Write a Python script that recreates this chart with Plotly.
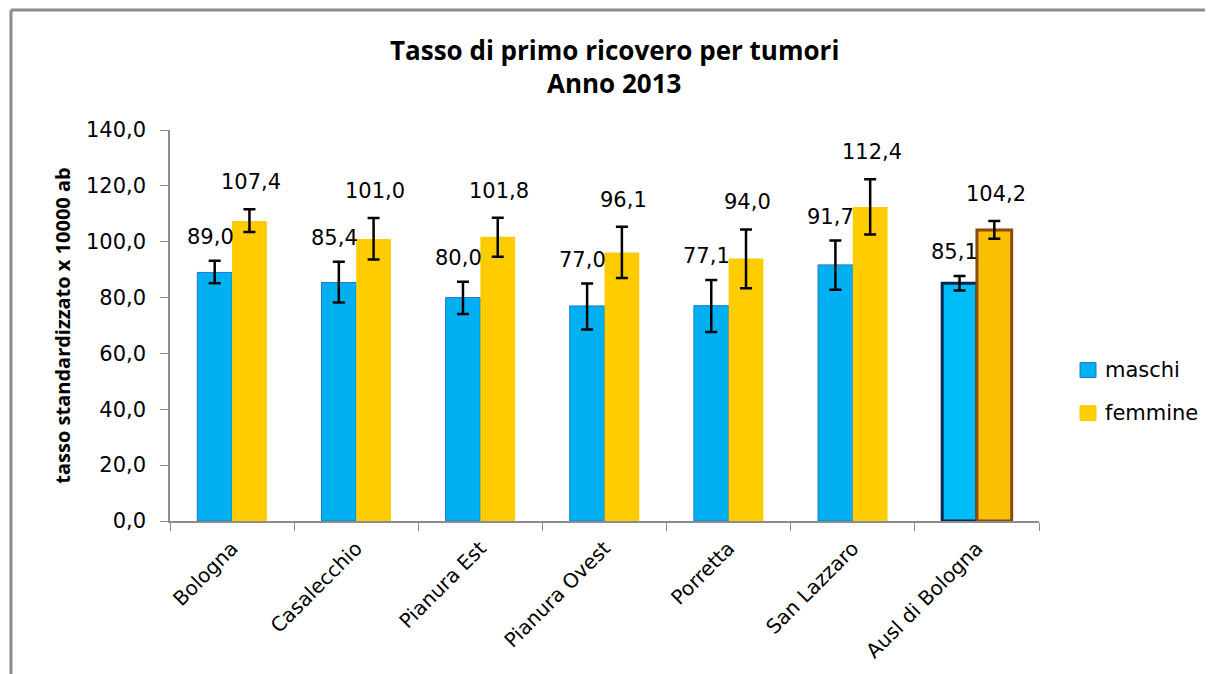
import plotly.graph_objects as go

categories = ["Bologna", "Casalecchio", "Pianura Est", "Pianura Ovest", "Porretta", "San Lazzaro", "Ausl di Bologna"]
maschi = [89.0, 85.4, 80.0, 77.0, 77.1, 91.7, 85.1]
femmine = [107.4, 101.0, 101.8, 96.1, 94.0, 112.4, 104.2]
maschi_err_plus = [4.2, 7.4, 5.7, 8.0, 9.2, 8.7, 2.6]
maschi_err_minus = [3.9, 7.2, 5.9, 8.4, 9.4, 8.9, 2.6]
femmine_err_plus = [4.2, 7.5, 6.8, 9.3, 10.4, 10.0, 3.2]
femmine_err_minus = [3.9, 7.4, 7.2, 9.1, 10.7, 9.8, 3.1]
series_names = ["maschi", "femmine"]

FONT = "DejaVu Sans"
TFONT = "Open Sans"
m_col = "#00b0f0"
f_col = "#ffcc00"

n = len(categories)
m_line_col = ["#1f78c8"] * (n - 1) + ["#0b2550"]
m_line_w = [1] * (n - 1) + [3]
f_line_col = [f_col] * (n - 1) + ["#8a4a10"]
f_line_w = [0] * (n - 1) + [3]
m_fill = [m_col] * (n - 1) + ["#00bdf8"]
f_fill = [f_col] * (n - 1) + ["#f8c000"]

fig = go.Figure()
fig.add_trace(go.Bar(
    name=series_names[0], x=categories, y=maschi, showlegend=False,
    marker=dict(color=m_fill, line=dict(color=m_line_col, width=m_line_w)),
    error_y=dict(type="data", array=maschi_err_plus, arrayminus=maschi_err_minus,
                 color="black", thickness=2.5, width=6),
))
fig.add_trace(go.Bar(
    name=series_names[1], x=categories, y=femmine, showlegend=False,
    marker=dict(color=f_fill, line=dict(color=f_line_col, width=f_line_w)),
    error_y=dict(type="data", array=femmine_err_plus, arrayminus=femmine_err_minus,
                 color="black", thickness=2.5, width=6),
))

annotations = []
for c, v, e in zip(categories, maschi, maschi_err_plus):
    annotations.append(dict(x=c, y=v + e, xref="x", yref="y", text=f"{v:.1f}".replace(".", ","),
                            showarrow=False, xshift=-22, yshift=24, yanchor="middle",
                            font=dict(family=FONT, size=21, color="black")))
for c, v, e in zip(categories, femmine, femmine_err_plus):
    annotations.append(dict(x=c, y=v + e, xref="x", yref="y", text=f"{v:.1f}".replace(".", ","),
                            showarrow=False, xshift=19, yshift=27, yanchor="middle",
                            font=dict(family=FONT, size=21, color="black")))

annotations.append(dict(x=0.511, y=1.0, xref="paper", yref="paper", yshift=80,
                        text="<b>Tasso di primo ricovero per tumori</b>",
                        showarrow=False, yanchor="middle",
                        font=dict(family=TFONT, size=26, color="black")))
annotations.append(dict(x=0.511, y=1.0, xref="paper", yref="paper", yshift=47,
                        text="<b>Anno 2013</b>",
                        showarrow=False, yanchor="middle",
                        font=dict(family=TFONT, size=26, color="black")))

# outer frame: only top and left edges are visible in the picture
shapes = [
    dict(type="line", xref="paper", yref="paper", x0=-0.183, x1=1.3, y0=1.307, y1=1.307,
         line=dict(color="#8c8c8c", width=3)),
    dict(type="line", xref="paper", yref="paper", x0=-0.183, x1=-0.183, y0=-0.6, y1=1.307,
         line=dict(color="#8c8c8c", width=3)),
]

# manual legend
legend_y = [0.3862, 0.2762]
legend_fill = [m_col, f_col]
legend_line = ["#1f78c8", f_col]
for name, ly, fc, lc in zip(series_names, legend_y, legend_fill, legend_line):
    shapes.append(dict(type="rect", xref="paper", yref="paper",
                       x0=1.0472, x1=1.0656, y0=ly - 0.0191, y1=ly + 0.0191,
                       fillcolor=fc, line=dict(color=lc, width=1)))
    annotations.append(dict(x=1.0737, y=ly, xref="paper", yref="paper", text=name,
                            showarrow=False, xanchor="left", yanchor="middle",
                            font=dict(family=FONT, size=21, color="black")))

fig.update_layout(
    width=1205, height=666,
    margin=dict(l=162, r=174, t=122, b=153, autoexpand=False),
    paper_bgcolor="white", plot_bgcolor="white",
    separators=",.",
    barmode="group", bargap=0.44, bargroupgap=0,
    annotations=annotations,
    showlegend=False,
    shapes=shapes,
)
fig.update_xaxes(
    automargin=False,
    showline=True, linecolor="#8c8c8c", linewidth=1.5,
    ticks="outside", tickson="boundaries", ticklen=8, tickcolor="#8c8c8c",
    tickangle=-45, tickfont=dict(family=FONT, size=20, color="black"),
    ticklabelstandoff=6,
    showgrid=False,
)
fig.update_yaxes(
    automargin=False,
    range=[0, 140], dtick=20, tickformat=".1f",
    showline=True, linecolor="#8c8c8c", linewidth=1.5,
    ticks="outside", ticklen=8, tickcolor="#8c8c8c",
    tickfont=dict(family=FONT, size=21, color="black"),
    ticklabelstandoff=10,
    showgrid=False, zeroline=False,
    title=dict(text="<b>tasso standardizzato x 10000 ab</b>",
               font=dict(family=TFONT, size=20, color="black"), standoff=10),
)

fig.write_html("out.html")
